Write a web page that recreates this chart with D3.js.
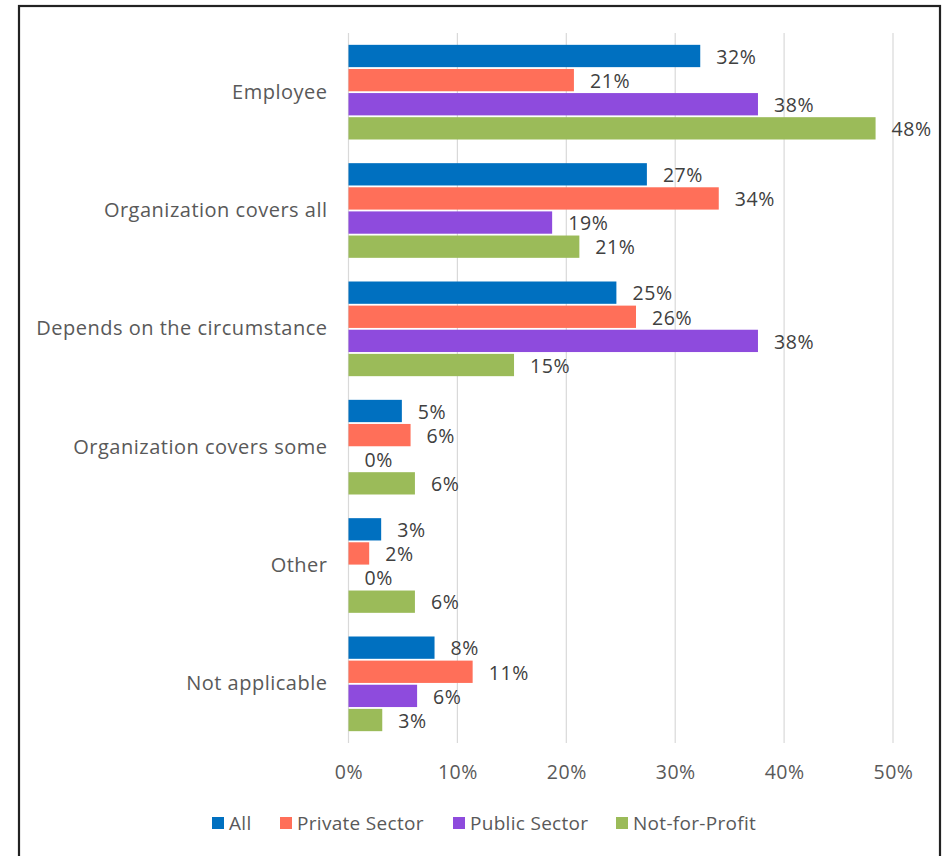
<!DOCTYPE html>
<html>
<head>
<meta charset="utf-8">
<script src="https://cdn.jsdelivr.net/npm/d3@7"></script>
<style>
  html, body { margin: 0; padding: 0; background: #fff; }
  svg { display: block; }
  text { font-family: "Open Sans", "Noto Sans", sans-serif; }
</style>
</head>
<body>
<svg id="chart" width="947" height="856"></svg>
<script>
// Who pays: share of respondents by sector
const categories = [
  "Employee",
  "Organization covers all",
  "Depends on the circumstance",
  "Organization covers some",
  "Other",
  "Not applicable"
];
const seriesNames = ["All", "Private Sector", "Public Sector", "Not-for-Profit"];
const seriesColors = ["#0070C0", "#FF6F59", "#8E4BDD", "#9BBB59"];

const allValues     = [0.323, 0.274, 0.246, 0.049, 0.030, 0.079];
const privateValues = [0.207, 0.340, 0.264, 0.057, 0.019, 0.114];
const publicValues  = [0.376, 0.187, 0.376, 0.000, 0.000, 0.063];
const nfpValues     = [0.484, 0.212, 0.152, 0.061, 0.061, 0.031];

const xTicks = [0, 0.1, 0.2, 0.3, 0.4, 0.5];

const seriesValues = [allValues, privateValues, publicValues, nfpValues];
const rows = categories.map((c, i) => ({
  category: c,
  values: seriesNames.map((s, j) => ({ series: s, color: seriesColors[j], value: seriesValues[j][i] }))
}));

const svg = d3.select("#chart");

// outer frame
svg.append("rect")
  .attr("x", 19).attr("y", 6)
  .attr("width", 921).attr("height", 870)
  .attr("fill", "none")
  .attr("stroke", "#222")
  .attr("stroke-width", 2.2);

const plot = { left: 348.5, right: 893, top: 33, bottom: 743 };

const x = d3.scaleLinear().domain([0, 0.5]).range([plot.left, plot.right]);
const y = d3.scaleBand().domain(categories).range([plot.top, plot.bottom])
  .paddingInner(0.2).paddingOuter(0.1);
const ySub = d3.scaleBand().domain(seriesNames).range([0, y.bandwidth()])
  .paddingInner(0.075).paddingOuter(0);

const pct = d3.format(".0%");

// vertical gridlines
svg.append("g")
  .selectAll("line")
  .data(xTicks)
  .join("line")
  .attr("x1", d => x(d)).attr("x2", d => x(d))
  .attr("y1", plot.top).attr("y2", plot.bottom)
  .attr("stroke", "#D9D9D9")
  .attr("stroke-width", 1.2);

// x axis tick labels
const xAxis = d3.axisBottom(x).tickValues(xTicks).tickFormat(pct).tickSize(0).tickPadding(0);
const gx = svg.append("g")
  .attr("transform", `translate(0,${plot.bottom})`)
  .call(xAxis);
gx.select(".domain").remove();
gx.selectAll("text")
  .attr("y", 29)
  .attr("dy", "0.35em")
  .attr("fill", "#595959")
  .style("font-size", "19.5px")
  .style("letter-spacing", "0.5px")
  .style("font-family", "'Open Sans', sans-serif");

// category labels
const yAxis = d3.axisLeft(y).tickSize(0).tickPadding(0);
const gy = svg.append("g")
  .attr("transform", `translate(${plot.left - 21},0)`)
  .call(yAxis);
gy.select(".domain").remove();
gy.selectAll("text")
  .attr("fill", "#595959")
  .style("font-size", "20px")
  .style("letter-spacing", "0.5px")
  .style("font-family", "'Open Sans', sans-serif");

// bars and value labels
const groups = svg.append("g")
  .selectAll("g")
  .data(rows)
  .join("g")
  .attr("transform", d => `translate(0,${y(d.category)})`);

groups.selectAll("rect")
  .data(d => d.values)
  .join("rect")
  .attr("x", x(0))
  .attr("y", d => ySub(d.series))
  .attr("width", d => x(d.value) - x(0))
  .attr("height", ySub.bandwidth())
  .attr("fill", d => d.color);

groups.selectAll("text.val")
  .data(d => d.values)
  .join("text")
  .attr("class", "val")
  .attr("x", d => x(d.value) + 16)
  .attr("y", d => ySub(d.series) + ySub.bandwidth() / 2 + 1)
  .attr("dy", "0.35em")
  .attr("fill", "#404040")
  .style("font-size", "19.5px")
  .style("letter-spacing", "0.6px")
  .text(d => pct(d.value));

// legend
const legendItems = [
  { name: seriesNames[0], color: seriesColors[0], x: 212 },
  { name: seriesNames[1], color: seriesColors[1], x: 280 },
  { name: seriesNames[2], color: seriesColors[2], x: 453 },
  { name: seriesNames[3], color: seriesColors[3], x: 616 }
];
const legend = svg.append("g").attr("transform", "translate(0,823)");
const li = legend.selectAll("g").data(legendItems).join("g")
  .attr("transform", d => `translate(${d.x},0)`);
li.append("rect")
  .attr("x", 0).attr("y", -6)
  .attr("width", 12).attr("height", 12)
  .attr("fill", d => d.color);
li.append("text")
  .attr("x", 17).attr("y", 0)
  .attr("dy", "0.35em")
  .attr("fill", "#595959")
  .style("font-size", "19px")
  .style("letter-spacing", "0.3px")
  .text(d => d.name);
</script>
</body>
</html>
